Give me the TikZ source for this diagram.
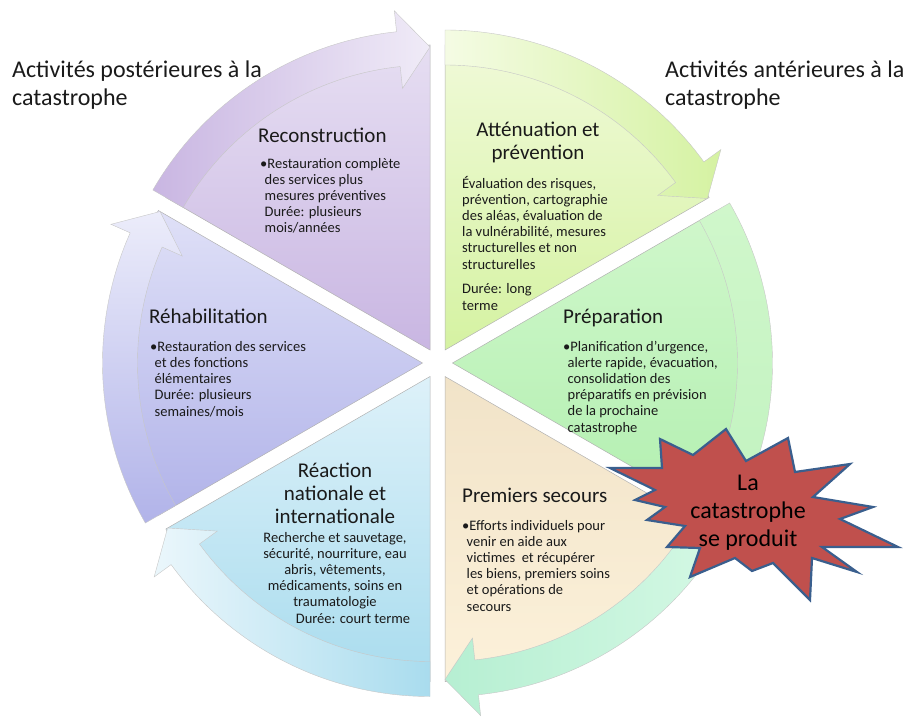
\documentclass[tikz,border=0pt]{standalone}
\usepackage{fontspec}
\setmainfont{Carlito}
\usepackage{tikz}
\usetikzlibrary{calc}

\definecolor{reconA}{HTML}{E6DEF2}
\definecolor{reconB}{HTML}{C9B6E2}
\definecolor{attenA}{HTML}{F0FAD8}
\definecolor{attenB}{HTML}{D5F2A2}
\definecolor{prepA}{HTML}{D0F7CB}
\definecolor{prepB}{HTML}{B2EFB0}
\definecolor{secA}{HTML}{F1E3C8}
\definecolor{secB}{HTML}{FCF1DA}
\definecolor{mintA}{HTML}{D4F8E4}
\definecolor{mintB}{HTML}{B6EFD2}
\definecolor{reacA}{HTML}{DDF1F9}
\definecolor{reacB}{HTML}{A9DCEE}
\definecolor{rehabA}{HTML}{DFE0F7}
\definecolor{rehabB}{HTML}{B1B3E9}
\definecolor{burstred}{HTML}{C0504D}
\definecolor{burstblue}{HTML}{3A5F8E}
\definecolor{ink}{HTML}{1A1A1A}

\begin{document}
\begin{tikzpicture}[x=1pt,y=1pt,
    wedgeedge/.style={draw=black!30, line width=0.5pt},
    bandedge/.style={draw=black!22, line width=0.4pt},
    headline/.style={font=\fontsize{24}{28}\selectfont, align=left, inner sep=0pt, anchor=base west, text=ink},
    wedgetitle/.style={font=\fontsize{21}{23}\selectfont, inner sep=0pt, text=ink},
    wedgetext/.style={font=\fontsize{14.5}{16.2}\selectfont, align=left, inner sep=0pt, anchor=base west, text=ink},
    burst/.style={fill=burstred, draw=burstblue, line width=2.2pt, line join=miter}]
        \useasboundingbox (0,0) rectangle (907,716);
        \coordinate (C) at (437.5,352.5);

        \begin{scope}[shift={(430,366)}]
          \shade[wedgeedge, top color=reconA, bottom color=reconB]
            (0,0) -- (150:305) arc[start angle=150, end angle=90, radius=305] -- cycle;
          \shade[bandedge, left color=reconB, right color=reconA!60!white]
            (150:285) -- (150:320) arc[start angle=150, end angle=96, radius=320]
            -- (96:341) -- (90:303) -- (96:263) -- (96:285)
            arc[start angle=96, end angle=150, radius=285] -- cycle;
        \end{scope}

        \begin{scope}[shift={(445,366)}]
          \shade[wedgeedge, top color=attenA, bottom color=attenB]
            (0,0) -- (90:305) arc[start angle=90, end angle=30, radius=305] -- cycle;
          \shade[bandedge, left color=attenA!70!white, right color=attenB]
            (90:285) -- (90:320) arc[start angle=90, end angle=36, radius=320]
            -- (36:341) -- (30:303) -- (36:263) -- (36:285)
            arc[start angle=36, end angle=90, radius=285] -- cycle;
        \end{scope}

        \begin{scope}[shift={(452.5,353)}]
          \shade[wedgeedge, top color=prepA, bottom color=prepB]
            (0,0) -- (30:305) arc[start angle=30, end angle=-30, radius=305] -- cycle;
          \shade[bandedge, top color=prepA, bottom color=prepB!80!white]
            (30:285) -- (30:320) arc[start angle=30, end angle=-24, radius=320]
            -- (-24:341) -- (-30:303) -- (-24:263) -- (-24:285)
            arc[start angle=-24, end angle=30, radius=285] -- cycle;
        \end{scope}

        \begin{scope}[shift={(445,339.5)}]
          \shade[wedgeedge, top color=secA, bottom color=secB]
            (0,0) -- (-30:305) arc[start angle=-30, end angle=-90, radius=305] -- cycle;
          \shade[bandedge, left color=mintB, right color=mintA]
            (-30:285) -- (-30:320) arc[start angle=-30, end angle=-84, radius=320]
            -- (-84:341) -- (-90:303) -- (-84:263) -- (-84:285)
            arc[start angle=-84, end angle=-30, radius=285] -- cycle;
        \end{scope}

        \begin{scope}[shift={(430,339.5)}]
          \shade[wedgeedge, top color=reacA, bottom color=reacB]
            (0,0) -- (270:305) arc[start angle=270, end angle=210, radius=305] -- cycle;
          \shade[bandedge, left color=reacA!60!white, right color=reacB]
            (270:285) -- (270:320) arc[start angle=270, end angle=216, radius=320]
            -- (216:341) -- (210:303) -- (216:263) -- (216:285)
            arc[start angle=216, end angle=270, radius=285] -- cycle;
        \end{scope}

        \begin{scope}[shift={(422.5,353)}]
          \shade[wedgeedge, top color=rehabA, bottom color=rehabB]
            (0,0) -- (210:305) arc[start angle=210, end angle=150, radius=305] -- cycle;
          \shade[bandedge, top color=rehabA!60!white, bottom color=rehabB]
            (210:285) -- (210:320) arc[start angle=210, end angle=156, radius=320]
            -- (156:341) -- (150:303) -- (156:263) -- (156:285)
            arc[start angle=156, end angle=210, radius=285] -- cycle;
        \end{scope}

        % texts of the six phases (base = last line)
        \node[wedgetitle, anchor=base west] (reconT) at (258,573) {Reconstruction};
        \node[wedgetext] (recon) at (260,483) {•Restauration complète\\
          \hspace*{4.5pt}des services plus\\ \hspace*{4.5pt}mesures préventives\\
          \hspace*{4.5pt}Durée: plusieurs\\ \hspace*{4.5pt}mois/années};

        \node[wedgetitle, align=center, anchor=base] (attenT) at (538,556) {Atténuation et\\prévention};
        \node[wedgetext] (atten) at (462,406) {Évaluation des risques,\\
          prévention, cartographie\\ des aléas, évaluation de\\
          la vulnérabilité, mesures\\ structurelles et non\\ structurelles\\[8.5pt]
          Durée: long\\ terme};

        \node[wedgetitle, anchor=base west] (prepT) at (563,393) {Préparation};
        \node[wedgetext] (prep) at (563,284) {•Planification d’urgence,\\
          \hspace*{4.5pt}alerte rapide, évacuation,\\ \hspace*{4.5pt}consolidation des\\
          \hspace*{4.5pt}préparatifs en prévision\\ \hspace*{4.5pt}de la prochaine\\
          \hspace*{4.5pt}catastrophe};

        \node[wedgetitle, anchor=base west] (secT) at (462,214) {Premiers secours};
        \node[wedgetext] (sec) at (462,105) {•Efforts individuels pour\\
          \hspace*{4.5pt}venir en aide aux\\ \hspace*{4.5pt}victimes\ \ et récupérer\\
          \hspace*{4.5pt}les biens, premiers soins\\ \hspace*{4.5pt}et opérations de\\
          \hspace*{4.5pt}secours};

        \node[wedgetitle, align=center, anchor=base] (reacT) at (335,193) {Réaction\\nationale et\\internationale};
        \node[wedgetext, align=center, anchor=base] (reac) at (335,93) {Recherche et sauvetage,\\
          sécurité, nourriture, eau\\ abris, vêtements,\\ médicaments, soins en\\
          traumatologie\\ \hspace*{36pt}Durée: court terme};

        \node[wedgetitle, anchor=base west] (rehabT) at (149,393) {Réhabilitation};
        \node[wedgetext] (rehab) at (150,300) {•Restauration des services\\
          \hspace*{4.5pt}et des fonctions\\ \hspace*{4.5pt}élémentaires\\
          \hspace*{4.5pt}Durée: plusieurs\\ \hspace*{4.5pt}semaines/mois};

        % before and after
        \node[headline] (post) at (12,610) {Activités postérieures à la\\catastrophe};
        \node[headline] (ante) at (665,610) {Activités antérieures à la\\catastrophe};

        % the disaster
        \draw[burst] (726,287) -- (746,255) -- (788,278) -- (795,244) -- (850,252)
          -- (813,219) -- (873,209) -- (840,197) -- (898,169) -- (822,169)
          -- (857,144) -- (812,158) -- (810,116) -- (773,153) -- (752,145)
          -- (735,158) -- (690,139) -- (700,168) -- (667,169) -- (685,190)
          -- (647,196) -- (665,209) -- (635,216) -- (655,226) -- (610,248)
          -- (662,248) -- (660,277) -- (693,261) -- cycle;
        \node[font=\fontsize{24}{28}\selectfont, align=center, inner sep=0pt, text=black] (burstT) at (748,203) {La\\catastrophe\\se produit};
\end{tikzpicture}
\end{document}
